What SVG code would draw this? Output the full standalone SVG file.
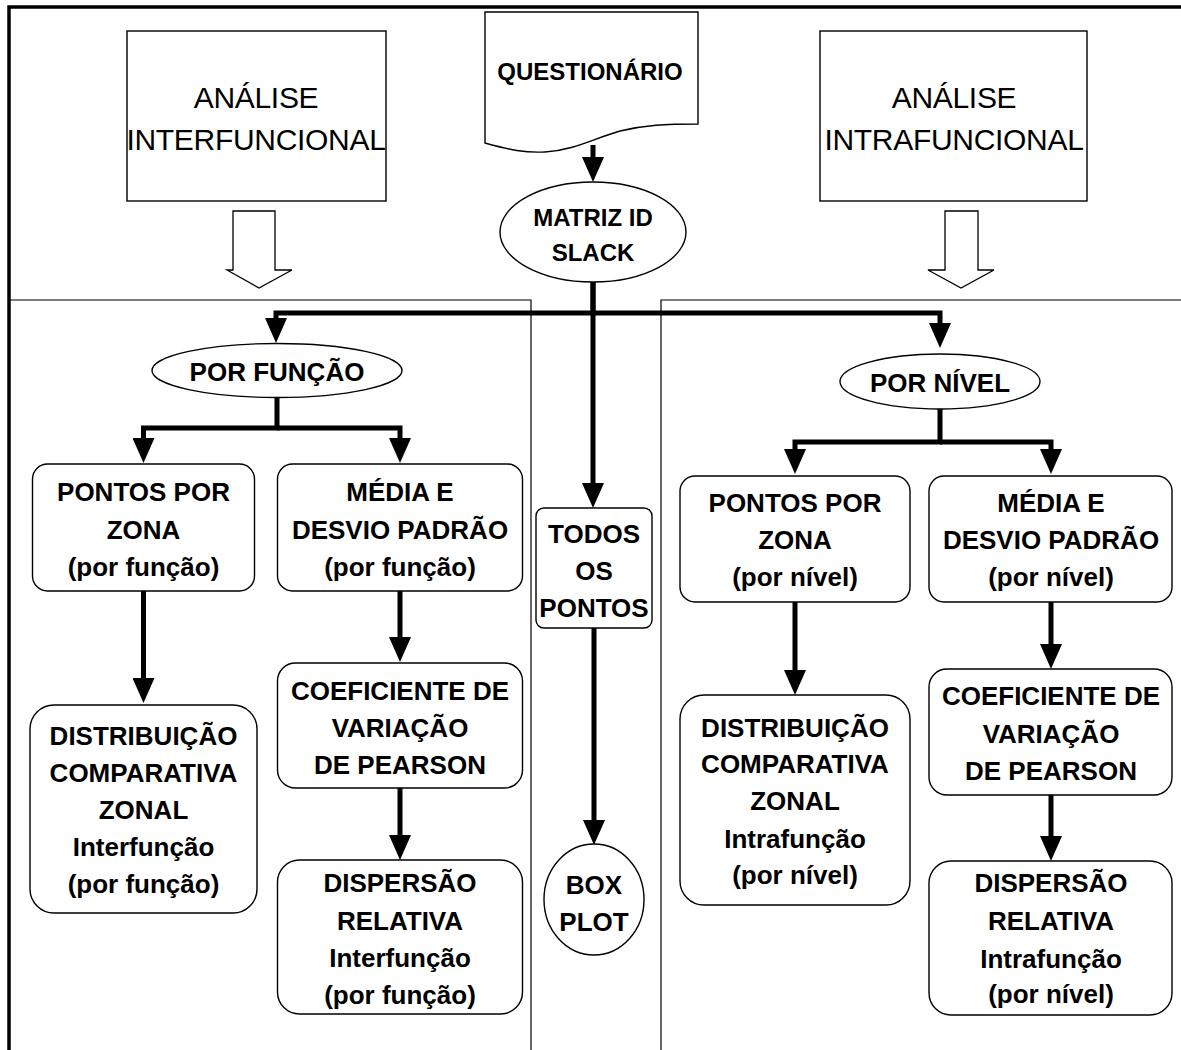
<svg xmlns="http://www.w3.org/2000/svg" width="1181" height="1050" viewBox="0 0 1181 1050">
<defs>
<style>
.bx{fill:#fff;stroke:#000;stroke-width:1.4}
.t{font-family:"Liberation Sans",Arial,sans-serif;font-weight:bold;font-size:26px;text-anchor:middle;fill:#000}
.ts{font-family:"Liberation Sans",Arial,sans-serif;font-weight:bold;font-size:24px;text-anchor:middle;fill:#000}
.tr{font-family:"Liberation Sans",Arial,sans-serif;font-weight:normal;font-size:30px;text-anchor:middle;fill:#000;letter-spacing:-0.3px}
.c{fill:none;stroke:#000;stroke-width:5;stroke-linejoin:miter}
.hol{fill:#fff;stroke:#000;stroke-width:1.3}
.sep{fill:none;stroke:#000;stroke-width:1.2}
</style>
<marker id="ah" markerUnits="userSpaceOnUse" viewBox="0 0 25 22" markerWidth="25" markerHeight="22" refX="0" refY="11" orient="auto">
<path d="M0,0 L25,11 L0,22 z" fill="#000"/>
</marker>
</defs>
<rect width="1181" height="1050" fill="#fff"/>
<g id="frame">
<path d="M9,1050 V7 H1181" fill="none" stroke="#000" stroke-width="3.5"/>
<path class="sep" d="M9,300 H531 V1050"/>
<path class="sep" d="M1181,300 H661 V1050" stroke="#555"/>
</g>
<g id="hollow-arrows">
<polygon class="hol" points="233,211 275,211 275,270 292,270 259,288 227,270 233,270"/>
<polygon class="hol" points="945,211 978,211 978,270 994,270 961,288 928,270 945,270"/>
</g>
<g id="connectors">
<path class="c" d="M593,145 V157" marker-end="url(#ah)"/>
<path class="c" d="M593,282 V313 H276 V318" marker-end="url(#ah)"/>
<path class="c" d="M593,313 H940 V323" marker-end="url(#ah)"/>
<path class="c" d="M593,282 V483" marker-end="url(#ah)"/>
<path class="c" d="M277,398 V428 H143.5 V438" marker-end="url(#ah)"/>
<path class="c" d="M277,428 H400 V438" marker-end="url(#ah)"/>
<path class="c" d="M143.5,591 V678" marker-end="url(#ah)"/>
<path class="c" d="M400,591 V637" marker-end="url(#ah)"/>
<path class="c" d="M400,788 V835" marker-end="url(#ah)"/>
<path class="c" d="M594,628 V820" marker-end="url(#ah)"/>
<path class="c" d="M940,409 V442 H795 V449" marker-end="url(#ah)"/>
<path class="c" d="M940,442 H1051 V449" marker-end="url(#ah)"/>
<path class="c" d="M795,602 V670" marker-end="url(#ah)"/>
<path class="c" d="M1051,602 V644" marker-end="url(#ah)"/>
<path class="c" d="M1051,795 V836" marker-end="url(#ah)"/>
</g>
<g id="analise-inter">
<rect class="bx" x="127" y="31" width="259" height="170"/>
<text class="tr" x="256" y="108">ANÁLISE</text>
<text class="tr" x="256" y="150">INTERFUNCIONAL</text>
</g>
<g id="questionario">
<path class="bx" d="M485,12 H698 V124 C665,124 645,125 620,131 C595,138 575,150 545,152 C525,153 510,150 485,143 Z"/>
<text class="ts" x="590" y="80">QUESTIONÁRIO</text>
</g>
<g id="analise-intra">
<rect class="bx" x="820" y="31" width="267" height="170"/>
<text class="tr" x="954" y="108">ANÁLISE</text>
<text class="tr" x="954" y="150">INTRAFUNCIONAL</text>
</g>
<g id="matriz">
<ellipse class="bx" cx="593" cy="232" rx="93" ry="50"/>
<text class="ts" x="593" y="226">MATRIZ ID</text>
<text class="ts" x="593" y="261">SLACK</text>
</g>
<g id="por-funcao">
<ellipse class="bx" cx="277" cy="370.5" rx="125" ry="27"/>
<text class="t" x="277" y="381">POR FUNÇÃO</text>
</g>
<g id="por-nivel">
<ellipse class="bx" cx="940" cy="381.5" rx="100" ry="27.5"/>
<text class="t" x="940" y="392">POR NÍVEL</text>
</g>
<g id="pontos-funcao">
<rect class="bx" x="32.5" y="464" width="222" height="127" rx="15"/>
<text class="t" x="143.5" y="501">PONTOS POR</text>
<text class="t" x="143.5" y="539">ZONA</text>
<text class="t" x="143.5" y="576">(por função)</text>
</g>
<g id="media-funcao">
<rect class="bx" x="277.5" y="464" width="245" height="127" rx="15"/>
<text class="t" x="400" y="501">MÉDIA E</text>
<text class="t" x="400" y="539">DESVIO PADRÃO</text>
<text class="t" x="400" y="576">(por função)</text>
</g>
<g id="distrib-funcao">
<rect class="bx" x="30" y="705" width="227" height="208" rx="24"/>
<text class="t" x="143.5" y="745">DISTRIBUIÇÃO</text>
<text class="t" x="143.5" y="782">COMPARATIVA</text>
<text class="t" x="143.5" y="819">ZONAL</text>
<text class="t" x="143.5" y="856">Interfunção</text>
<text class="t" x="143.5" y="893">(por função)</text>
</g>
<g id="coef-funcao">
<rect class="bx" x="277.5" y="663" width="245" height="125" rx="18"/>
<text class="t" x="400" y="700">COEFICIENTE DE</text>
<text class="t" x="400" y="737">VARIAÇÃO</text>
<text class="t" x="400" y="774">DE PEARSON</text>
</g>
<g id="disp-funcao">
<rect class="bx" x="277.5" y="860" width="245" height="154" rx="22"/>
<text class="t" x="400" y="892">DISPERSÃO</text>
<text class="t" x="400" y="930">RELATIVA</text>
<text class="t" x="400" y="967">Interfunção</text>
<text class="t" x="400" y="1004">(por função)</text>
</g>
<g id="todos">
<rect class="bx" x="536" y="508" width="116" height="120" rx="8"/>
<text class="t" x="594" y="543">TODOS</text>
<text class="t" x="594" y="580">OS</text>
<text class="t" x="594" y="617">PONTOS</text>
</g>
<g id="boxplot">
<ellipse class="bx" cx="594" cy="899.5" rx="50" ry="55.5"/>
<text class="t" x="594" y="894">BOX</text>
<text class="t" x="594" y="931">PLOT</text>
</g>
<g id="pontos-nivel">
<rect class="bx" x="680" y="476" width="230" height="126" rx="15"/>
<text class="t" x="795" y="512">PONTOS POR</text>
<text class="t" x="795" y="549">ZONA</text>
<text class="t" x="795" y="586">(por nível)</text>
</g>
<g id="media-nivel">
<rect class="bx" x="929" y="476" width="243" height="126" rx="15"/>
<text class="t" x="1051" y="512">MÉDIA E</text>
<text class="t" x="1051" y="549">DESVIO PADRÃO</text>
<text class="t" x="1051" y="586">(por nível)</text>
</g>
<g id="distrib-nivel">
<rect class="bx" x="680" y="695" width="230" height="210" rx="24"/>
<text class="t" x="795" y="737">DISTRIBUIÇÃO</text>
<text class="t" x="795" y="773">COMPARATIVA</text>
<text class="t" x="795" y="810">ZONAL</text>
<text class="t" x="795" y="848">Intrafunção</text>
<text class="t" x="795" y="884">(por nível)</text>
</g>
<g id="coef-nivel">
<rect class="bx" x="929" y="669" width="243" height="126" rx="18"/>
<text class="t" x="1051" y="705">COEFICIENTE DE</text>
<text class="t" x="1051" y="743">VARIAÇÃO</text>
<text class="t" x="1051" y="780">DE PEARSON</text>
</g>
<g id="disp-nivel">
<rect class="bx" x="929" y="861" width="243" height="154" rx="22"/>
<text class="t" x="1051" y="892">DISPERSÃO</text>
<text class="t" x="1051" y="930">RELATIVA</text>
<text class="t" x="1051" y="968">Intrafunção</text>
<text class="t" x="1051" y="1003">(por nível)</text>
</g>
</svg>
